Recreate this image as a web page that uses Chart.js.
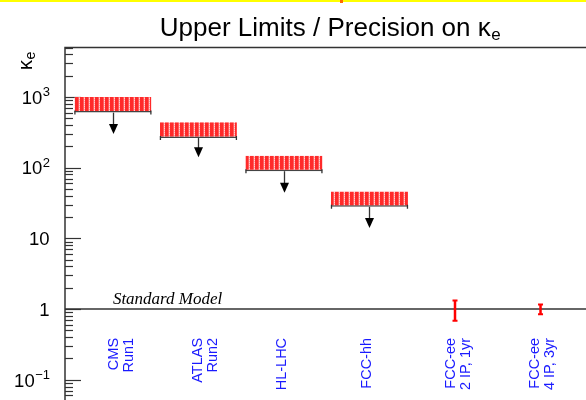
<!DOCTYPE html>
<html>
<head>
<meta charset="utf-8">
<script src="https://cdn.jsdelivr.net/npm/chart.js@4"></script>
<style>
  html, body { margin: 0; padding: 0; background: #fff; }
  #view { position: relative; width: 586px; height: 400px; overflow: hidden; }
  #strip { position: absolute; left: 0; top: 0; width: 586px; height: 2px; background: #ffff00; z-index: 2; }
  #strip span { position: absolute; left: 340px; top: 0; width: 3px; height: 3px; background: #ff6a00; }
  #wrap { position: absolute; left: 0; top: 0; width: 660px; height: 440px; }
</style>
</head>
<body>
<div id="view">
  <div id="strip"><span></span></div>
  <div id="wrap"><canvas id="chart" width="660" height="440"></canvas></div>
</div>
<script>
const categories = [['CMS', 'Run1'], ['ATLAS', 'Run2'], ['HL-LHC'], ['FCC-hh'], ['FCC-ee', '2 IP, 1yr'], ['FCC-ee', '4 IP, 3yr']];
const limitLow  = [600, 262, 89, 28];
const limitHigh = [1000, 437, 147, 46];
const arrowTip  = [300, 140, 44, 14];
const precIndex   = [4, 5];
const precCentral = [1, 1];
const precErr     = [0.32, 0.16];
const yTickValues = [0.1, 1, 10, 100, 1000];
const yTickBase   = ['10', '1', '10', '10', '10'];
const yTickExp    = ['\u22121', '', '', '2', '3'];
const smValue = 1;
const smLabel = 'Standard Model';
const titleMain = 'Upper Limits / Precision on \u03BA';
const titleSub = 'e';
const labelTopValue = 0.39;
const labelStep = 0.984;

const yMin = 0.05, yMax = 5000;
const xMin = -0.56, xMax = 6.28;
const SANS = '"Liberation Sans", Arial, sans-serif';

function hatch() {
  const c = document.createElement('canvas');
  c.width = 5; c.height = 2;
  const g = c.getContext('2d');
  g.fillStyle = '#ff2a2a'; g.fillRect(0, 0, 5, 2);
  g.fillStyle = '#ff5a5a'; g.fillRect(3, 0, 1, 2);
  g.fillStyle = '#ffd0d0'; g.fillRect(4, 0, 1, 1);
  g.fillStyle = '#ff9a9a'; g.fillRect(4, 1, 1, 1);
  return g.createPattern(c, 'repeat');
}

const deco = {
  id: 'deco',
  beforeDatasetsDraw(chart) {
    const { ctx, chartArea: a } = chart;
    const y = chart.scales.y;
    ctx.save();
    ctx.strokeStyle = '#333';
    ctx.lineWidth = 1.5;
    ctx.strokeRect(a.left, a.top, a.right - a.left, a.bottom - a.top);
    // ticks inside the frame
    ctx.lineWidth = 1.2;
    for (let d = Math.floor(Math.log10(yMin)); d <= Math.ceil(Math.log10(yMax)); d++) {
      for (let m = 1; m <= 9; m++) {
        const v = m * Math.pow(10, d);
        if (v < yMin || v > yMax) continue;
        const py = Math.round(y.getPixelForValue(v)) + 0.5;
        const len = m === 1 ? 16 : 8;
        ctx.beginPath();
        ctx.moveTo(a.left, py);
        ctx.lineTo(a.left + len, py);
        ctx.stroke();
      }
    }
    // tick labels with real superscripts
    ctx.fillStyle = '#000';
    ctx.textBaseline = 'alphabetic';
    ctx.textAlign = 'left';
    yTickValues.forEach((v, i) => {
      const py = y.getPixelForValue(v);
      ctx.font = '13px ' + SANS;
      const we = yTickExp[i] ? ctx.measureText(yTickExp[i]).width : 0;
      ctx.font = '18.5px ' + SANS;
      const wb = ctx.measureText(yTickBase[i]).width;
      const x0 = a.left - 15.5 - wb - we;
      ctx.fillText(yTickBase[i], x0, py + 6.8);
      if (yTickExp[i]) {
        ctx.font = '13px ' + SANS;
        ctx.fillText(yTickExp[i], x0 + wb + 0.5, py - 1);
      }
    });
    // Standard Model line
    const ps = y.getPixelForValue(smValue);
    ctx.lineWidth = 1.5;
    ctx.beginPath();
    ctx.moveTo(a.left, ps);
    ctx.lineTo(a.right, ps);
    ctx.stroke();

    // title
    ctx.font = '26px ' + SANS;
    const wm = ctx.measureText(titleMain).width;
    ctx.font = '17px ' + SANS;
    const ws = ctx.measureText(titleSub).width;
    const tx = 330 - (wm + ws) / 2;
    ctx.font = '26px ' + SANS;
    ctx.fillText(titleMain, tx, 35.5);
    ctx.font = '17px ' + SANS;
    ctx.fillText(titleSub, tx + wm + 0.5, 40);

    // axis title kappa_e
    ctx.translate(31.5, 70);
    ctx.rotate(-Math.PI / 2);
    ctx.font = '20px ' + SANS;
    ctx.fillText('\u03BA', 0, 0);
    const w = ctx.measureText('\u03BA').width;
    ctx.font = '14px ' + SANS;
    ctx.fillText('e', w + 0.5, 3);
    ctx.restore();
  },
  afterDatasetsDraw(chart) {
    const { ctx } = chart;
    const x = chart.scales.x, y = chart.scales.y;
    ctx.save();
    // arrows under the limits
    limitLow.forEach((lo, i) => {
      const cx = x.getPixelForValue(i);
      const px = Math.round(cx) + 0.5;
      const y0 = y.getPixelForValue(lo);
      const y1 = y.getPixelForValue(arrowTip[i]);
      ctx.strokeStyle = '#333';
      ctx.lineWidth = 1.3;
      ctx.beginPath();
      ctx.moveTo(px, y0);
      ctx.lineTo(px, y1 - 9);
      ctx.stroke();
      ctx.fillStyle = '#000';
      ctx.beginPath();
      ctx.moveTo(px - 4.5, y1 - 10);
      ctx.lineTo(px + 4.5, y1 - 10);
      ctx.lineTo(px, y1);
      ctx.closePath();
      ctx.fill();
      const hw = chart.getDatasetMeta(0).data[i].width / 2;
      ctx.beginPath();
      ctx.moveTo(cx - hw + 0.5, y0 - 2);
      ctx.lineTo(cx - hw + 0.5, y0 + 2);
      ctx.moveTo(cx + hw - 0.5, y0 - 2);
      ctx.lineTo(cx + hw - 0.5, y0 + 2);
      ctx.stroke();
    });
    // precision error bars
    precIndex.forEach((k, i) => {
      const px = x.getPixelForValue(k);
      const yl = y.getPixelForValue(precCentral[i] - precErr[i]);
      const yh = y.getPixelForValue(precCentral[i] + precErr[i]);
      ctx.strokeStyle = '#ff0000';
      ctx.lineWidth = 2.5;
      ctx.beginPath();
      ctx.moveTo(px, yl);
      ctx.lineTo(px, yh);
      ctx.stroke();
      ctx.lineWidth = 2;
      ctx.beginPath();
      ctx.moveTo(px - 2.5, yl); ctx.lineTo(px + 2.5, yl);
      ctx.moveTo(px - 2.5, yh); ctx.lineTo(px + 2.5, yh);
      ctx.stroke();
    });
    // Standard Model text
    ctx.fillStyle = '#000';
    ctx.font = 'italic 17px "Liberation Serif", "DejaVu Serif", serif';
    ctx.textAlign = 'left';
    ctx.textBaseline = 'alphabetic';
    ctx.fillText(smLabel, x.getPixelForValue(0), y.getPixelForValue(smValue) - 5);
    // category labels
    ctx.fillStyle = '#1a1aff';
    ctx.font = '14.5px ' + SANS;
    ctx.textAlign = 'right';
    const top = y.getPixelForValue(labelTopValue);
    categories.forEach((lines, i) => {
      const cx = x.getPixelForValue(i * labelStep);
      ctx.save();
      ctx.translate(cx, top);
      ctx.rotate(-Math.PI / 2);
      lines.forEach((t, j) => ctx.fillText(t, 0, 5.2 + j * 15));
      ctx.restore();
    });
    ctx.restore();
  }
};

new Chart(document.getElementById('chart'), {
  type: 'bar',
  data: {
    datasets: [{
      data: limitLow.map((lo, i) => ({ x: i, y: [lo, limitHigh[i]] })),
      backgroundColor: hatch(),
      borderColor: '#444',
      borderWidth: { top: 0, left: 0, right: 0, bottom: 1.5 },
      borderSkipped: false,
      categoryPercentage: 1,
      barPercentage: 0.9
    }]
  },
  options: {
    responsive: false,
    animation: false,
    layout: { padding: { left: 65, right: 10, top: 47.5, bottom: 39 } },
    plugins: {
      legend: { display: false },
      tooltip: { enabled: false },
      title: { display: false }
    },
    scales: {
      x: { type: 'linear', min: xMin, max: xMax, offset: false, display: false },
      y: {
        type: 'logarithmic',
        min: yMin,
        max: yMax,
        display: false
      }
    }
  },
  plugins: [deco]
});
</script>
</body>
</html>
